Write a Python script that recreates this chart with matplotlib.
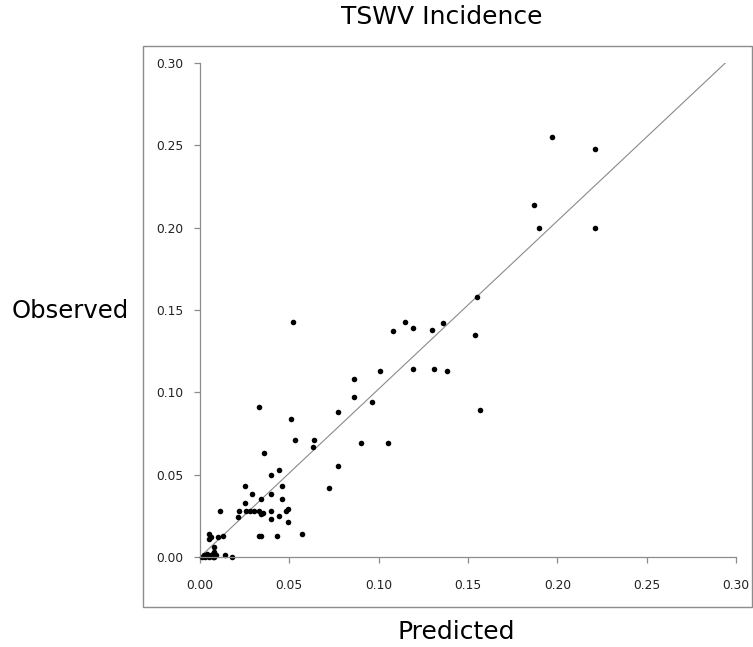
import matplotlib

matplotlib.use("Agg")
import matplotlib.pyplot as plt
from matplotlib.patches import Rectangle

# predicted vs observed TSWV incidence
predicted = [
    0.197, 0.221, 0.187, 0.190, 0.221, 0.155, 0.154, 0.157,
    0.052, 0.115, 0.108, 0.119, 0.130, 0.136,
    0.101, 0.119, 0.131, 0.138, 0.086, 0.086, 0.096, 0.077,
    0.051, 0.053, 0.064, 0.063, 0.090, 0.105, 0.077,
    0.033, 0.036, 0.044, 0.040, 0.025, 0.046, 0.072,
    0.029, 0.040, 0.025, 0.034, 0.046,
    0.022, 0.011, 0.026, 0.028, 0.030, 0.033, 0.035, 0.034,
    0.040, 0.040, 0.044, 0.048, 0.049, 0.049, 0.021,
    0.033, 0.043, 0.057, 0.034,
    0.005, 0.006, 0.005, 0.010, 0.013, 0.008, 0.008, 0.014, 0.018,
    0.001, 0.002, 0.003, 0.004, 0.005, 0.006, 0.007, 0.008, 0.009,
    0.004, 0.007,
]
observed = [
    0.255, 0.248, 0.214, 0.200, 0.200, 0.158, 0.135, 0.089,
    0.143, 0.143, 0.137, 0.139, 0.138, 0.142,
    0.113, 0.114, 0.114, 0.113, 0.108, 0.097, 0.094, 0.088,
    0.084, 0.071, 0.071, 0.067, 0.069, 0.069, 0.055,
    0.091, 0.063, 0.053, 0.050, 0.043, 0.043, 0.042,
    0.038, 0.038, 0.033, 0.035, 0.035,
    0.028, 0.028, 0.028, 0.028, 0.028, 0.028, 0.027, 0.026,
    0.028, 0.023, 0.025, 0.028, 0.029, 0.021, 0.024,
    0.013, 0.013, 0.014, 0.013,
    0.014, 0.012, 0.011, 0.012, 0.013, 0.006, 0.003, 0.001, 0.000,
    0.000, 0.001, 0.000, 0.001, 0.000, 0.001, 0.002, 0.000, 0.001,
    0.002, 0.000,
]

# reference line drawn on the chart
line_x = [0.0, 0.294]
line_y = [0.0, 0.300]

ticks = [0.00, 0.05, 0.10, 0.15, 0.20, 0.25, 0.30]
tick_labels = [f"{t:.2f}" for t in ticks]

AXIS_GRAY = "#8c8c8c"

fig = plt.figure(figsize=(7.53, 6.47), dpi=100)
ax = fig.add_axes([0.2656, 0.1391, 0.7118, 0.7635])

ax.plot(line_x, line_y, color="#8a8a8a", linewidth=0.8, zorder=1)
ax.scatter(predicted, observed, s=16, color="black", linewidths=0,
           zorder=2, clip_on=False)

ax.set_xlim(0, 0.30)
ax.set_ylim(0, 0.30)
ax.set_xticks(ticks)
ax.set_yticks(ticks)
ax.set_xticklabels(tick_labels)
ax.set_yticklabels(tick_labels)

for side in ("top", "right"):
    ax.spines[side].set_visible(False)
for side in ("left", "bottom"):
    ax.spines[side].set_color(AXIS_GRAY)
    ax.spines[side].set_linewidth(0.9)

ax.tick_params(axis="both", direction="out", length=4, width=0.9,
               color=AXIS_GRAY, labelsize=8.8, labelcolor="#222222")
ax.tick_params(axis="x", pad=12)
ax.tick_params(axis="y", pad=8)

# outer frame around the plot area
fig.patches.append(Rectangle((143 / 753, 1 - 607 / 647), (752 - 143) / 753,
                             (607 - 46) / 647, transform=fig.transFigure,
                             fill=False, edgecolor="#8c8c8c", linewidth=1.0))

fig.text(0.587, 0.974, "TSWV Incidence", ha="center", va="center", fontsize=18)
fig.text(0.093, 0.519, "Observed", ha="center", va="center", fontsize=17.5)
fig.text(0.6056, 0.023, "Predicted", ha="center", va="center", fontsize=18)

fig.savefig("out.png", dpi=100)
plt.close(fig)
